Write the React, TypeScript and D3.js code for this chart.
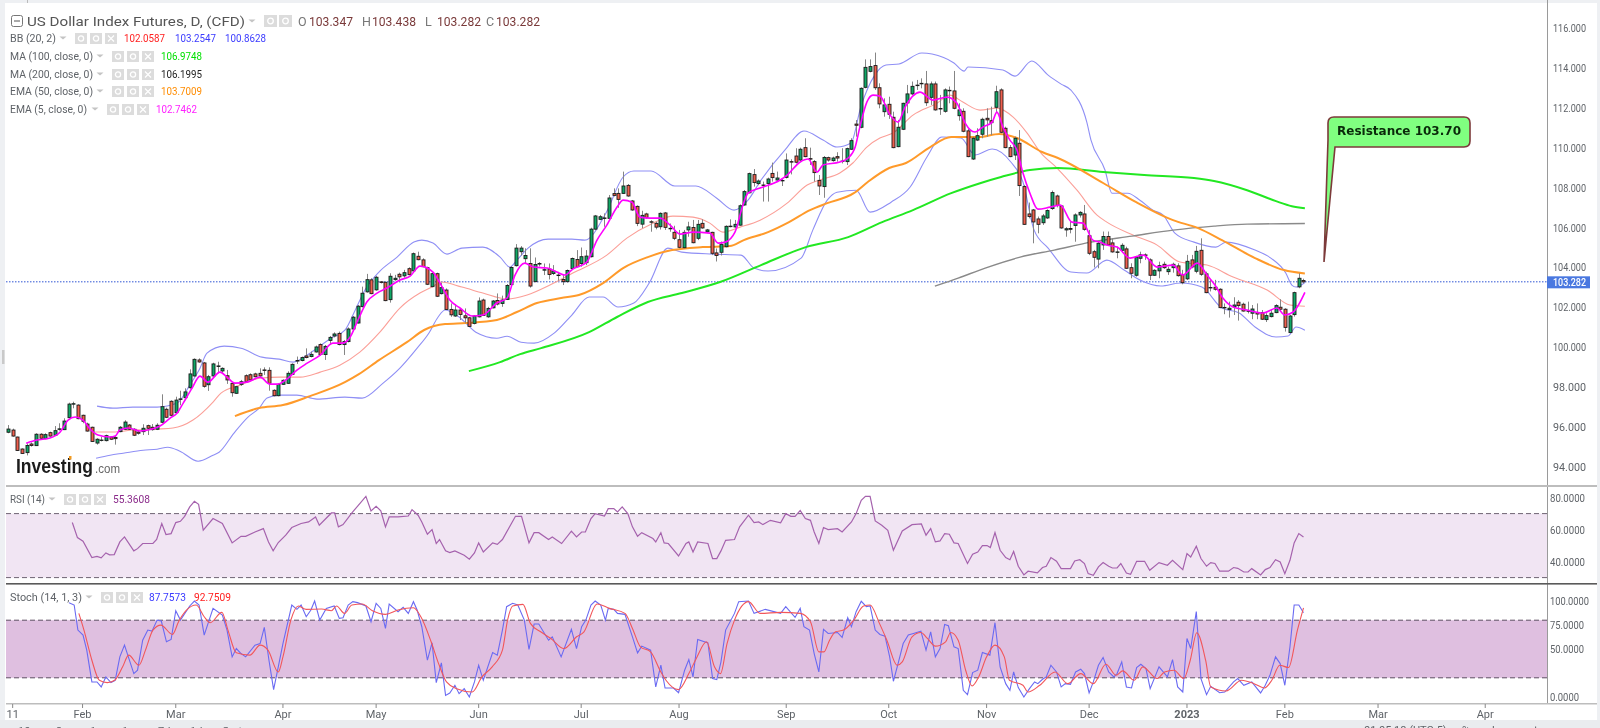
import React from "react";
import * as d3 from "d3";

// daily candles [open, high, low, close]
const ohlc: number[][] = [
  [95.75,96.11,95.7,95.91],[95.86,95.93,95.53,95.56],[95.51,95.53,94.81,94.84],[94.91,94.94,94.66,94.69],[94.73,95.19,94.59,95.09],
  [95.16,95.24,95.03,95.09],[95.08,95.7,95.06,95.65],[95.65,95.7,95.41,95.45],[95.43,95.7,95.4,95.63],[95.73,95.78,95.53,95.56],
  [95.6,96.06,95.56,95.83],[95.9,96.2,95.83,95.92],[95.88,96.45,95.86,96.31],[96.48,97.23,96.45,97.16],[97.17,97.28,96.95,97.18],
  [97.11,97.15,96.4,96.43],[96.6,96.63,96.2,96.3],[96.16,96.23,95.78,95.81],[96.0,96.03,95.26,95.29],[95.21,95.45,95.13,95.4],
  [95.35,95.53,95.29,95.36],[95.33,95.63,95.29,95.58],[95.51,95.55,95.36,95.4],[95.49,95.61,95.13,95.43],[95.78,96.06,95.75,96.0],
  [95.9,96.35,95.86,96.26],[96.11,96.16,95.86,95.9],[95.9,95.95,95.56,95.6],[95.76,95.86,95.63,95.7],[95.78,96.15,95.61,95.95],
  [96.08,96.13,95.61,95.95],[96.0,96.16,95.83,95.88],[95.9,96.2,95.86,96.1],[96.25,97.65,96.2,97.03],[96.9,96.98,96.46,96.5],
  [97.3,97.35,96.56,96.6],[96.73,97.53,96.7,97.36],[97.4,97.83,97.1,97.42],[97.48,97.95,97.45,97.77],[97.98,98.9,97.93,98.67],
  [98.57,99.45,98.53,99.4],[99.37,99.45,99.23,99.27],[99.22,99.27,97.98,98.05],[98.13,98.62,97.82,98.53],[98.57,99.23,98.5,99.17],
  [99.06,99.28,98.7,99.07],[98.82,99.0,98.7,98.95],[98.58,98.87,98.17,98.37],[98.2,98.23,97.53,97.73],[97.7,98.07,97.67,98.03],
  [98.15,98.37,98.07,98.28],[98.58,98.65,98.25,98.28],[98.63,98.7,98.33,98.37],[98.67,98.73,98.5,98.53],[98.7,98.95,98.48,98.57],
  [98.87,99.0,98.62,98.85],[98.85,99.0,97.83,98.2],[97.85,97.9,97.55,97.58],[97.58,98.2,97.55,98.15],[98.15,98.4,98.12,98.35],
  [98.2,98.8,98.17,98.7],[98.65,99.2,98.62,99.15],[99.32,99.54,99.17,99.34],[99.34,99.54,99.3,99.49],[99.57,99.95,99.45,99.49],
  [99.54,99.79,99.5,99.65],[99.77,100.09,99.74,100.02],[100.14,100.2,99.6,99.64],[99.64,100.12,99.37,100.05],[100.35,100.57,100.12,100.5],
  [100.57,100.75,100.5,100.67],[100.7,100.79,100.1,100.14],[100.14,100.37,99.62,100.29],[100.29,101.0,100.25,100.92],[100.92,101.57,100.87,101.51],
  [101.22,102.12,101.19,102.06],[102.04,103.04,102.0,102.71],[102.78,103.68,102.74,103.39],[103.38,103.46,102.66,102.69],[102.88,103.58,102.84,103.51],
  [103.28,103.32,103.2,103.25],[103.26,103.29,102.31,102.34],[102.39,103.71,102.24,103.56],[103.39,103.63,103.34,103.46],[103.66,103.74,103.29,103.53],
  [103.58,103.88,103.49,103.74],[103.94,104.01,103.61,103.64],[103.83,104.75,103.79,104.69],[104.56,104.79,104.36,104.39],[104.38,104.46,104.01,104.04],
  [103.99,104.04,103.12,103.16],[103.04,103.74,103.01,103.69],[103.69,103.74,102.52,102.56],[102.69,103.24,102.65,102.99],[102.87,102.95,101.87,101.9],
  [101.9,102.2,101.53,101.63],[101.57,102.17,101.53,101.87],[101.87,101.92,101.37,101.65],[101.58,101.95,101.2,101.48],[101.48,101.53,101.02,101.05],
  [101.2,101.62,101.15,101.57],[101.53,102.5,101.5,102.32],[102.37,102.44,101.57,101.6],[101.53,102.03,101.48,101.95],[101.98,102.37,101.95,102.32],
  [102.35,102.7,102.1,102.17],[102.2,102.59,102.03,102.37],[102.4,103.17,102.37,103.1],[103.14,104.07,103.1,104.0],[104.09,105.17,104.05,104.97],
  [104.79,105.07,104.6,104.97],[104.44,104.96,104.2,104.6],[104.2,104.96,102.99,103.07],[103.29,104.5,103.27,104.15],[104.17,104.27,104.05,104.2],
  [103.87,104.2,103.62,103.89],[103.92,104.2,103.4,103.65],[103.7,104.12,103.62,103.82],[103.62,103.78,103.34,103.6],[103.4,103.62,103.12,103.29],
  [103.29,103.9,103.25,103.85],[103.95,104.5,103.9,104.45],[104.4,104.87,104.0,104.04],[104.2,105.0,104.04,104.54],[104.24,104.87,104.12,104.57],
  [104.54,105.99,104.5,105.92],[105.92,106.63,105.87,106.58],[106.41,106.63,106.37,106.54],[106.47,106.71,106.04,106.48],[106.46,107.63,106.41,107.48],
  [107.7,107.96,107.56,107.61],[107.71,107.96,106.99,107.41],[107.71,108.8,107.68,108.08],[108.11,108.18,107.54,107.58],[107.33,107.38,106.84,106.88],
  [107.06,107.11,106.07,106.21],[106.17,106.84,105.97,106.61],[106.68,106.74,106.44,106.5],[106.29,106.37,105.79,106.28],[106.21,106.29,105.91,106.02],
  [106.04,106.76,105.9,106.71],[106.73,106.78,105.88,106.01],[105.96,106.2,105.79,105.95],[105.76,106.09,105.37,105.46],[105.39,105.88,104.96,105.01],
  [104.99,105.88,104.96,105.76],[105.88,106.29,105.54,106.03],[106.0,106.38,105.21,105.24],[105.46,106.38,105.37,106.16],[106.21,106.41,105.94,105.98],
  [105.79,105.93,105.72,105.88],[105.76,105.79,104.62,104.71],[104.73,104.95,104.3,104.6],[104.76,105.3,104.6,105.16],[105.04,106.11,105.01,106.06],
  [106.06,106.41,106.01,106.07],[106.03,106.38,105.99,106.16],[106.12,107.16,106.09,107.09],[107.13,107.88,107.09,107.8],[107.74,108.75,107.71,108.7],
  [108.65,108.93,108.05,108.25],[108.2,108.41,108.12,108.33],[108.13,108.3,107.3,108.12],[108.2,108.5,107.3,108.43],[108.71,109.25,108.3,108.5],
  [108.38,108.8,108.33,108.48],[108.36,108.45,108.08,108.35],[108.51,109.71,108.46,109.38],[109.3,109.42,108.66,109.29],[109.58,109.97,109.21,109.27],
  [109.38,110.0,109.3,109.92],[110.0,110.47,109.52,109.55],[109.45,110.0,109.13,109.44],[109.3,109.38,108.3,108.75],[108.36,108.63,107.63,108.08],
  [108.05,109.58,107.49,109.51],[109.5,109.55,109.3,109.38],[109.35,109.55,109.3,109.48],[109.55,109.77,109.3,109.48],[109.33,109.97,109.21,109.32],
  [109.3,110.0,109.13,109.95],[109.92,110.47,109.88,110.35],[111.18,111.38,110.55,111.12],[111.02,113.02,110.97,112.97],[113.02,114.42,112.97,114.02],
  [113.82,114.42,113.77,114.06],[114.11,114.76,112.89,113.0],[113.0,113.22,111.97,112.19],[111.8,112.47,111.55,112.14],[112.17,112.55,111.44,111.67],
  [111.52,111.8,109.97,110.0],[110.05,111.39,110.02,111.02],[110.92,112.25,110.88,112.22],[112.24,113.14,111.72,112.69],[112.69,113.31,112.64,113.07],
  [113.12,113.39,112.89,113.13],[113.2,113.47,112.97,113.22],[113.19,113.84,112.09,112.25],[112.52,113.31,112.14,113.19],[113.19,113.31,111.85,111.89],
  [111.95,112.64,111.64,111.96],[111.82,112.97,111.75,112.89],[112.87,113.06,112.22,112.86],[112.84,113.84,111.92,111.97],[111.6,112.22,111.35,111.89],
  [111.82,111.97,110.77,110.82],[110.84,110.97,109.52,109.55],[109.43,110.55,109.38,110.47],[110.38,110.97,110.33,110.6],[110.67,111.5,110.47,111.42],
  [111.47,111.97,110.55,111.39],[111.35,112.05,110.63,111.25],[112.02,113.1,111.72,112.8],[112.89,112.97,110.72,110.77],[110.97,111.05,109.97,110.0],
  [110.0,110.13,109.52,109.55],[109.63,110.55,109.38,110.47],[110.22,110.88,107.58,108.1],[108.05,108.13,106.13,106.16],[106.68,107.25,106.46,106.55],
  [106.88,106.93,105.21,106.28],[106.43,106.55,105.71,106.16],[106.24,106.68,106.13,106.58],[106.48,106.91,106.43,106.85],[106.95,107.85,106.88,107.75],
  [107.58,107.65,107.01,107.11],[107.08,107.13,105.94,105.98],[105.88,106.02,105.54,105.94],[105.91,106.29,105.71,105.95],[106.1,106.71,105.29,106.63],
  [106.63,106.82,106.5,106.76],[106.68,107.13,105.84,105.91],[105.59,105.88,104.62,104.71],[104.79,104.88,104.0,104.51],[104.42,105.29,103.96,105.21],
  [105.13,105.8,104.88,105.55],[105.55,105.8,105.08,105.13],[105.23,105.46,104.74,104.78],[104.77,105.04,104.46,104.78],[104.86,105.21,104.74,105.11],
  [104.93,105.04,103.93,103.96],[103.99,104.21,103.46,103.71],[103.61,104.58,103.54,104.51],[104.46,104.79,104.21,104.63],[104.63,104.71,104.38,104.62],
  [104.38,104.46,103.37,103.61],[103.61,103.91,103.58,103.86],[103.83,104.29,103.46,104.09],[104.16,104.29,103.93,103.99],[103.79,104.04,103.63,103.91],
  [103.99,104.24,103.74,104.16],[104.08,104.21,103.54,103.59],[103.64,103.88,103.16,103.24],[103.43,104.63,103.37,104.31],[104.38,104.63,103.96,104.03],
  [103.81,105.08,103.71,104.81],[104.86,105.46,103.58,103.66],[103.68,103.79,102.71,102.74],[102.99,103.38,102.8,103.0],[103.01,103.38,102.84,102.91],
  [102.91,102.96,101.96,101.99],[101.99,102.2,101.66,102.0],[101.89,102.29,101.49,101.96],[102.04,102.51,101.62,102.12],[102.26,102.37,101.34,102.09],
  [102.16,102.24,101.79,101.82],[101.82,102.29,101.7,101.83],[101.71,102.12,101.41,101.92],[101.74,102.2,101.41,101.67],[101.74,101.87,101.37,101.41],
  [101.39,101.71,101.27,101.59],[101.54,101.91,101.5,101.71],[101.74,102.16,101.71,102.09],[102.01,102.41,101.79,101.91],[101.91,101.96,100.79,101.0],
  [100.74,101.62,100.71,101.57],[101.64,102.79,101.54,102.74],[103.03,103.71,102.96,103.46],[103.347,103.438,103.2,103.282],
];

// overlays, as [bar index, value] at the vertices
const bbUpper = [[19.1,97.06],[22.5,96.96],[26.8,97.01],[32,97.01],[36.3,97.21],[39,98.11],[41.2,98.96],[42.7,99.71],[46.4,100.06],[50,99.96],[54.5,99.51],[58.2,99.41],[61.2,99.26],[64.8,99.71],[69.3,100.46],[72.3,100.86],[74.5,101.86],[76.6,102.87],[79.6,103.77],[83.5,104.52],[87.1,105.27],[88.8,105.37],[91.2,105.22],[94.2,104.67],[97.4,104.97],[101.9,105.02],[105.6,104.52],[107.7,104.02],[109.2,104.37],[111.6,104.97],[115.9,105.42],[121,105.42],[123.8,105.37],[128.3,106.72],[132,108.53],[134.3,108.83],[138,108.83],[143.1,108.08],[147.6,108.08],[152.1,107.47],[155.8,106.87],[158.8,107.37],[161.6,108.38],[166.7,109.88],[170.8,110.83],[174.9,110.38],[177.9,110.03],[180.9,110.23],[183,112.03],[186,113.63],[188.4,114.14],[191.2,114.19],[196.1,114.74],[198.3,114.69],[203,114.24],[205.2,113.83],[206,114.04],[213.5,113.89],[216.1,113.58],[219.7,114.34],[223.2,113.63],[226,113.18],[228.1,112.88],[231.5,111.28],[232.4,110.38],[235.4,108.88],[236.9,107.72],[240.3,107.72],[242.9,107.37],[245.7,106.87],[247.9,106.62],[250.4,105.72],[254.5,105.27],[259.2,105.02],[261.4,105.27],[267.6,104.87],[271,104.47],[274.2,103.72],[275.5,103.12],[276.4,103.02],[278.3,103.25]];
const bbLower = [[18.9,94.45],[21.9,94.6],[24.7,94.7],[29,94.85],[32,94.9],[34.3,95.0],[36.9,94.8],[40.8,94.3],[44,94.6],[45.3,94.75],[48.5,95.71],[51.5,96.51],[53.9,96.96],[55.6,97.46],[58.2,97.61],[62,97.61],[66.3,97.41],[72.3,97.51],[76,97.46],[80.5,98.21],[84.1,98.96],[87.8,99.96],[90.3,100.71],[92.3,101.52],[93.8,101.87],[96.8,101.52],[100.4,100.76],[104.9,100.46],[107.1,100.56],[110.1,100.26],[112.9,100.21],[117.2,100.71],[121,101.62],[124.7,102.52],[127.7,102.52],[130.9,102.02],[134.3,102.22],[137.6,103.22],[141.6,104.97],[144.6,104.77],[151.3,104.67],[157.3,104.62],[160.1,103.97],[163.1,103.82],[170.2,104.47],[172.7,105.87],[175.8,107.37],[177.9,107.77],[182,107.87],[185,106.77],[189.5,107.27],[193.6,108.03],[197.2,109.53],[200.4,110.53],[204.5,110.48],[207.5,109.63],[211.2,109.93],[215.2,109.28],[217.8,108.28],[220.2,105.87],[223.2,104.97],[228.1,103.77],[231.5,103.72],[235.8,104.37],[239.5,103.87],[242.9,103.37],[247.4,103.07],[251.7,103.22],[256.2,103.02],[260.5,101.97],[264.2,101.72],[267.6,101.02],[272.1,100.52],[274.7,100.57],[276.4,101.02],[278.3,100.86]];
const bbMiddle = [[18.7,95.76],[22.5,95.76],[26.8,95.86],[32,95.91],[35.4,95.96],[39.7,96.36],[44,97.26],[45.7,97.71],[49.8,98.11],[54.1,98.46],[58.4,98.51],[62.7,98.51],[67,98.76],[71.2,99.11],[75.5,99.76],[79.8,100.76],[84.1,101.97],[88.4,102.72],[91,103.02],[92.9,103.27],[97.4,103.02],[101.9,102.72],[107.1,102.42],[111.4,102.62],[116.3,103.12],[121.2,103.72],[128.5,104.62],[132.8,105.47],[138.4,106.22],[142.7,106.57],[147,106.52],[150.6,106.22],[153.4,105.77],[157.1,106.02],[161.4,106.37],[167.2,107.22],[171.5,108.13],[174.2,108.38],[178.5,108.73],[181.3,109.23],[184.3,110.03],[187.1,110.48],[189.9,110.73],[194.2,111.63],[199.4,112.23],[202.1,112.63],[204.9,112.28],[208.6,111.88],[212.2,111.98],[215.7,111.53],[218.7,110.73],[221.5,109.78],[225.1,108.98],[229.4,107.87],[233.7,106.62],[235.8,106.27],[241.4,105.62],[246.6,105.12],[251.5,104.27],[257.3,104.12],[262.9,103.52],[270.2,102.87],[275.1,102.12],[278.3,102.06]];
const ema50 = [[48.7,96.56],[53.9,96.96],[59,97.11],[64.8,97.56],[72.3,98.26],[75.3,98.66],[79.6,99.36],[85.6,100.26],[89.3,100.87],[93.8,101.17],[98.3,101.22],[104.9,101.37],[109.2,101.77],[113.5,102.22],[118.7,102.47],[122.5,102.62],[127.7,103.22],[132,103.97],[137.3,104.52],[142.5,104.87],[149.1,105.02],[154.9,105.07],[157.9,105.37],[163.1,105.77],[167.6,106.27],[172.1,106.87],[175.8,107.22],[181.5,107.72],[184.5,108.28],[189.1,108.98],[192.7,109.23],[197.9,110.03],[202.4,110.53],[208.4,110.53],[212.7,110.68],[216.5,110.48],[221.9,109.78],[225.3,109.48],[235,108.23],[242.1,107.27],[250,106.37],[255.4,105.97],[260.5,105.37],[267.6,104.47],[273.8,103.87],[278.3,103.7]];
const ma100 = [[98.9,98.81],[105.6,99.26],[109.9,99.66],[114.4,99.96],[124.7,100.76],[130.7,101.52],[137.3,102.27],[144.6,102.72],[152.8,103.27],[161.6,104.12],[171.2,105.02],[180.3,105.52],[187.6,106.27],[194.2,106.87],[202.4,107.72],[208.6,108.22],[213.1,108.53],[219.3,108.88],[225.3,108.98],[235,108.78],[243.8,108.63],[254.5,108.48],[258.8,108.33],[265.9,107.87],[272.1,107.32],[275.5,107.07],[278.3,106.97]];
const ma200 = [[198.9,103.07],[203.9,103.47],[209.7,103.97],[217.2,104.52],[224.5,104.87],[232.4,105.27],[241.2,105.57],[250,105.87],[258.8,106.07],[265.9,106.17],[278.3,106.2]];
const ema5 = [[3.9,95.2],[6.2,95.36],[9,95.46],[11.2,95.76],[12.9,96.36],[14.4,96.51],[16.1,96.36],[17.6,95.91],[19.3,95.61],[21.9,95.51],[23,95.56],[24,95.86],[25.8,95.96],[28.3,95.81],[30.9,95.91],[32.6,96.06],[34.8,96.46],[36.3,96.71],[37.6,97.21],[39.5,97.96],[41.2,98.56],[42.9,98.26],[45.5,98.76],[47,98.51],[48.7,98.21],[51.3,98.26],[54.1,98.51],[56.2,98.16],[57.9,98.16],[60.1,98.46],[62,98.86],[64.2,99.21],[67,99.61],[69.7,100.21],[71.7,100.21],[73.4,100.51],[75.1,101.37],[77,102.27],[79.2,102.72],[81.3,102.97],[84.1,103.37],[86.3,103.57],[88.4,104.07],[91.2,103.77],[92.7,103.22],[94.8,102.37],[97,101.97],[99.6,101.57],[101.9,101.62],[104.9,102.22],[107.1,102.47],[108.8,103.62],[110.9,104.22],[112.7,104.02],[115.7,103.97],[117.8,103.77],[119.5,103.62],[121.2,103.92],[124.2,104.27],[126.4,105.37],[128.5,106.12],[130.7,107.03],[132,107.37],[133.9,107.27],[135.6,106.52],[137.8,106.47],[139.9,106.47],[142.1,106.12],[144.2,105.67],[147,105.77],[150.6,105.72],[152.4,105.22],[153.9,105.27],[156,105.77],[157.7,107.12],[158.8,107.72],[161.4,107.98],[165.7,108.38],[167.2,108.63],[170,109.28],[171.7,109.43],[173.6,108.78],[174.9,109.13],[178.5,109.28],[180.3,109.48],[181.8,110.03],[182.8,111.03],[184.3,112.28],[185.6,112.63],[187.1,112.58],[189.3,111.63],[191,111.28],[192.5,112.03],[195.7,112.78],[198.5,112.38],[201.5,112.53],[203.6,112.23],[205.4,111.23],[207.5,110.78],[209.2,111.03],[211.2,111.28],[212.2,111.78],[213.5,111.03],[215,110.38],[216.5,109.88],[217.8,108.73],[219.3,107.72],[221,106.92],[223.6,107.02],[225.8,107.12],[228.3,106.27],[230.7,106.22],[232.8,105.37],[234.3,105.27],[235.8,105.12],[238,105.02],[240.8,104.47],[243.6,104.62],[246.6,104.02],[250,104.12],[252.1,103.62],[255.2,104.22],[257.3,103.62],[259,103.12],[260.7,102.47],[262.9,102.02],[265.9,101.87],[269.3,101.72],[272.3,101.97],[274,101.62],[275.8,101.77],[278.3,102.75]];

const rsi = [[13.8,64.4],[14.9,55],[16.1,52.7],[18,42.5],[19.1,43.3],[20,42.3],[21,45.4],[21.8,44.2],[22.8,44.4],[24,52.3],[25,55.4],[27,46.7],[27.8,48.1],[28.9,51.3],[31.1,51.3],[31.9,53.8],[33,63.8],[33.9,56.9],[35,57.5],[36,64.4],[37,65.2],[37.9,68.3],[39,74.2],[40,77.7],[40.9,75.8],[41.9,59.6],[44,66.9],[46,63.8],[48.1,51.7],[50,55.8],[51,55.8],[53,58.5],[54.8,60.6],[55.9,52.3],[56.9,46.7],[58,51.9],[59.6,56.5],[60.9,61.3],[62.9,63.8],[64.5,64.8],[66,67.9],[66.8,62.7],[69.4,70.4],[70.1,70.4],[70.9,61.7],[71.9,63.1],[73.8,70.4],[76.8,80.8],[77.9,71.7],[79,74.6],[80,71.7],[81,61.7],[81.8,67.9],[83.7,67.9],[85.9,68.5],[86.7,72.5],[88,69],[88.8,64.8],[90,57.1],[91,60],[91.9,51.3],[92.6,53.8],[93.9,46.7],[94.8,45.6],[95.9,46.7],[97.9,44],[99,41.5],[100.1,45.4],[101,51.7],[102,46],[104,51.7],[105,50.8],[106.1,53.8],[108.9,68.3],[110.2,68.3],[111.8,51.7],[112.9,58.1],[113.9,58.1],[116,53.8],[116.8,55.4],[118.8,51.3],[120.9,59],[122,55.4],[123.1,58.5],[123.9,58.5],[125.1,66.9],[126,70],[128,68.5],[128.8,73.1],[130,73.1],[130.8,71],[131.8,74.2],[133,70],[134,61.7],[135.1,55.8],[136,58.1],[138.4,54.4],[139,52.3],[140.1,58.1],[140.8,51.7],[141.7,51.3],[143.9,43.5],[145.5,51.3],[146.1,52.3],[147,46],[148,52.3],[150.2,51.3],[151.2,41.9],[152.1,41.9],[153,46.7],[154,53.3],[155.9,53.8],[157,61.7],[158.9,69],[160.1,64.4],[161.1,64.8],[162,63.1],[163.6,65.8],[165.8,64.2],[166.9,70],[168,68.3],[168.9,68.3],[170,72],[171.1,66.9],[172.2,65.8],[173,58.5],[174,51.3],[175,61.3],[176,60],[178,60.6],[179,58.5],[181,64.8],[182,70],[183.1,78.3],[184,80.8],[185,80.8],[186.1,65.4],[187.5,62.7],[188.8,59.6],[190,47.1],[191.9,59.2],[194,63.1],[196,63.5],[197,56.5],[198,60.6],[199,52.3],[200,52.9],[201,57.5],[202,57.1],[203,51.7],[203.9,51.3],[205.9,38.8],[207,44.6],[208.1,46],[209.1,50],[210.1,50],[210.8,48.8],[211.8,58.1],[212.9,47.1],[214.1,42.5],[215,41.2],[215.8,46.3],[216.8,37.1],[218,31.7],[218.9,34],[220.9,32.9],[222,36.3],[222.8,37.1],[223.8,42.5],[225,40.2],[226,35.6],[228,35.6],[228.9,40.4],[230,41.2],[231,38.8],[231.8,32.5],[232.9,31.5],[234,36.7],[235,39.4],[236.2,37.1],[237,36],[238,36],[238.8,38.8],[240,32.9],[240.9,32.1],[242.2,40.2],[243.9,40.2],[245,34.6],[247,39.4],[248.8,37.7],[249.9,40.8],[252.1,35],[253,45],[253.8,42.9],[255,49.6],[256,41.9],[257.2,37.1],[258.1,39.4],[259,38.8],[260,34],[261.9,34],[263,36.3],[263.9,35.8],[265.2,33.5],[266.1,33.5],[266.9,35.6],[268.8,31.7],[269.8,35],[270.8,36.3],[272,41.2],[273,39.8],[274,32.5],[275.1,40.8],[276,51.7],[277,57.5],[278,55.36]];
const stochK = [[13.1,98.3],[14.2,95.8],[15,69.7],[16.1,64.5],[16.9,48.8],[18,15.7],[19.1,15.7],[20,10.5],[21,20.9],[22.1,15],[23,17.4],[24,41.8],[25,54],[27,24.4],[27.8,27.9],[28.9,59.2],[30,69.7],[30.9,68.6],[32,80.1],[32.9,79.1],[34,57.5],[35,59.9],[36,89.9],[37,80.1],[39,94.8],[40,100],[41,95.8],[42.1,64.5],[44,92.3],[46,85.4],[47,69.7],[48.1,41.8],[49,50.5],[50,45.3],[51,41.8],[53,54],[54.1,55.7],[55,72.5],[56,38.3],[57,7.7],[58,31.4],[59,55.7],[60.9,95.8],[62,91.3],[62.9,95.8],[64,83.6],[65,90.6],[65.8,100],[66.9,80.1],[68.3,92.3],[70,94.8],[71.1,81.9],[71.9,82.6],[73,95.8],[74,99.3],[75,98.3],[76.8,94.8],[77.9,78.4],[79,97.6],[80,92.3],[81,71.4],[81.8,96.9],[83.7,88.9],[84.8,93.4],[85.9,87.1],[87,99.3],[87.8,90.6],[88.8,73.2],[90,38.3],[91,56.4],[91.9,15],[93,35.5],[93.9,1.7],[94.8,4.2],[95.9,12.2],[96.8,3.5],[97.9,8.7],[99,0],[100.1,15.7],[101,33.1],[102,17.4],[104,46.3],[105,43.6],[106.1,69.7],[107,94.1],[108.3,97.6],[109.4,95.8],[110.8,80.1],[111.8,49.5],[112.9,76],[113.9,76],[116,59.2],[116.8,62.7],[118.7,41.8],[120.9,70.4],[122,50.5],[123.1,73.2],[124,80.1],[125.1,95.8],[126,100],[127.2,95.8],[128.2,80.1],[128.8,92.3],[130,91.3],[130.8,87.1],[132.4,86.1],[134,62.7],[135.1,46],[136,53],[137.9,48.8],[139,10.5],[140.1,33.1],[141,9.4],[142.8,9.4],[143.9,4.5],[145.2,27.9],[146.1,39],[147,20.9],[148,59.9],[150.2,56.4],[151.2,19.2],[152.1,18.1],[153,36.6],[154,69.7],[155.9,87.1],[156.8,99.3],[158.9,100],[160.1,87.1],[162.5,91.3],[165.8,87.1],[166.9,94.1],[168.9,82.9],[170,92.3],[170.8,73.2],[172,69.7],[173,45.3],[174,26.1],[175,70.4],[176,66.2],[178,67.2],[179,62],[180.2,82.6],[181,73.2],[182,88.9],[183.1,99.7],[184.2,94.1],[185,94.8],[186.1,69.7],[187.1,65.2],[188.2,63.4],[189.2,41.8],[190,16.4],[191.1,36.6],[192.1,55.7],[193.2,64.5],[194.3,66.2],[195.9,68.6],[197,48.8],[198,67.9],[199,41.8],[200,50.5],[201,75.6],[201.8,74.2],[203,52.3],[203.9,50.5],[205,7],[205.9,2.4],[207,25.4],[208.1,27.9],[209.1,46.3],[210.7,43.6],[211.8,77.4],[212.9,31.4],[214.1,13.9],[215,7],[215.8,26.1],[216.8,9.8],[218,0],[219.2,8.7],[220.3,15.7],[221,13.9],[222,18.5],[222.8,20.9],[223.8,33.1],[225,26.1],[226,10.5],[226.9,13.9],[228,13.2],[229.1,26.1],[230.2,28.9],[231,24.4],[232,4.2],[232.9,15.7],[234,33.1],[235,41.1],[236.2,26.1],[237.3,20.9],[238,24.4],[239,36.6],[240,10.5],[241.1,9.4],[242.2,30.7],[243.1,34.1],[244.2,29.6],[245.1,8.7],[247,31.4],[248.8,20.9],[249.9,39],[251,10.5],[252.1,5.2],[253,61],[253.8,50.5],[255,88.9],[256,19.2],[257.2,2.4],[258.1,11.1],[260,4.5],[261.1,5.2],[263,15.7],[263.9,19.2],[265.2,12.2],[266.9,15.7],[268.8,4.2],[269.8,12.2],[270.8,22.6],[272,41.8],[273,34.8],[274,12.2],[275.1,52.3],[276,95.8],[277,95.8],[278,87.76]];
const stochD = [[15.2,87.1],[16.3,69.7],[18,38.3],[19.6,17.4],[21.3,15],[22.9,17.4],[24.6,31.4],[25.9,43.6],[28.1,33.1],[29.5,48.8],[31.1,69.7],[32.8,74.9],[35.3,65.2],[36.6,78.4],[38.2,89.9],[40.4,95.8],[42.1,83.6],[43.4,77.4],[45.9,88.2],[47.2,69.7],[49,46],[51.9,43.6],[54.1,54],[55.8,48.8],[58,26.1],[59,41.8],[60.7,80.1],[62.3,94.8],[64,91.3],[67.3,91.6],[69.4,89.9],[70.5,94.8],[72.2,87.1],[73.8,95.8],[76,96.9],[78.2,89.9],[81,86.1],[83.7,90.6],[87,93],[88.6,83.6],[90.8,57.5],[92.4,34.8],[94.1,15.7],[96.3,8.7],[99.6,5.2],[101.7,20.9],[103.9,31.4],[106.1,48.8],[107.2,80.1],[108.3,94.8],[110.5,96.5],[112.1,76.7],[114.3,67.9],[116.5,61],[119.3,50.5],[122,62.7],[123.6,67.9],[126.4,96.9],[129.1,92.3],[132.4,87.1],[134,71.4],[135.7,52.3],[137.9,47],[140.1,26.1],[141.2,17.4],[143.9,7.7],[146.1,24.4],[147.7,40.1],[149.9,57.5],[151.6,31.4],[152.9,24.4],[154.3,55.7],[155.9,80.1],[158.9,99.3],[161.4,87.1],[165.8,88.2],[170,87.1],[172.2,78.4],[174,47],[175.1,47],[176.3,59.2],[177.6,67.9],[179.3,69.7],[181.5,80.1],[183.6,94.8],[185,95.8],[187,76.7],[188.6,59.2],[190.8,33.1],[191.9,36.6],[194,62.7],[195.9,67.2],[197.3,61],[199,53],[201.2,57.5],[202.3,67.2],[203.9,59.2],[205.5,27.9],[206.9,11.5],[208.3,20.9],[210,41.8],[211.8,54],[213.8,41.8],[214.9,17.4],[217.8,12.2],[218.9,5.2],[221.4,12.2],[224.7,26.1],[227.4,13.9],[230.2,24.4],[232.9,13.9],[235.6,34.1],[237.8,22.6],[239.2,27.2],[241.7,17.4],[243.5,31.4],[246.6,19.2],[248.2,26.1],[250.2,27.9],[252.3,19.2],[253.7,38.3],[255.1,66.9],[257,38.3],[258.1,10.5],[261.4,6.3],[264.7,17.4],[267.4,13.9],[269.6,9.4],[271.2,17.4],[272.9,33.1],[274.8,30.7],[276.7,69.7],[278,92.75]];

const priceTicks = [94, 96, 98, 100, 102, 104, 106, 108, 110, 112, 114, 116];
const rsiTicks = [40, 60, 80];
const stochTicks = [0, 50, 75, 100];
const dateBars = [1, 16, 36, 59, 79, 101, 123, 144, 167, 189, 210, 232, 253, 274, 294, 317];
const dateLabels = ["11", "Feb", "Mar", "Apr", "May", "Jun", "Jul", "Aug", "Sep", "Oct", "Nov", "Dec", "2023", "Feb", "Mar", "Apr"];
const lastPrice = 103.282;

const headerLabels = ["O", "H", "L", "C"];
const headerValues = ["103.347", "103.438", "103.282", "103.282"];

const AXIS_X = 1547;
const x = d3.scaleLinear().domain([0, 278]).range([8, 8 + 278 * 4.66]);
const yPrice = d3.scaleLinear().domain([94, 112]).range([467.2, 107.7]);
const yRsi = d3.scaleLinear().domain([30, 80]).range([577.6, 497.6]);
const yStoch = d3.scaleLinear().domain([0, 100]).range([697, 601]);

const FONT = "Roboto, 'Open Sans', sans-serif";
const GRAY = "#5f6368";

function linePath(y: d3.ScaleLinear<number, number>, data: number[][], smooth = false) {
  const gen = d3.line<number[]>().x((d) => x(d[0])).y((d) => y(d[1]));
  if (smooth) gen.curve(d3.curveMonotoneX);
  return gen(data) ?? "";
}

function Txt({ tx, ty, w, size = 10.5, fill = GRAY, weight, children, anchor }: any) {
  return (
    <text x={tx} y={ty} fontSize={size} fill={fill} fontWeight={weight} textAnchor={anchor}
      fontFamily={FONT} textLength={w} lengthAdjust={w ? "spacingAndGlyphs" : undefined}>
      {children}
    </text>
  );
}

function IconBoxes({ at, ty, gap = 15 }: { at: number; ty: number; gap?: number }) {
  return (
    <g>
      {[0, 1, 2].map((i) => (
        <g key={i} transform={`translate(${at + i * gap},${ty})`}>
          <rect width={12} height={11} fill="#dcdcdc" />
          {i === 2 ? (
            <path d="M3 2.5L9 8.5M9 2.5L3 8.5" stroke="#fff" strokeWidth={1.2} />
          ) : (
            <circle cx={6} cy={5.5} r={2.6} fill="none" stroke="#fff" strokeWidth={1.3} />
          )}
        </g>
      ))}
    </g>
  );
}

function Caret({ cx, cy }: { cx: number; cy: number }) {
  return <path d={`M${cx - 3.5} ${cy - 1.5}H${cx + 3.5}L${cx} ${cy + 1.5}Z`} fill="#c4c4c4" />;
}

const legendRows = [
  { label: "BB (20, 2)", w: 46, caret: 63, box: 75, ty: 42, values: [["102.0587", "#ff2020", 124], ["103.2547", "#3a3aff", 175], ["100.8628", "#3a3aff", 225]] },
  { label: "MA (100, close, 0)", w: 83, caret: 100, box: 112, ty: 60, values: [["106.9748", "#00e000", 161]] },
  { label: "MA (200, close, 0)", w: 83, caret: 100, box: 112, ty: 78, values: [["106.1995", "#222222", 161]] },
  { label: "EMA (50, close, 0)", w: 83, caret: 100, box: 112, ty: 95, values: [["103.7009", "#ff8c00", 161]] },
  { label: "EMA (5, close, 0)", w: 77, caret: 95, box: 107, ty: 113, values: [["102.7462", "#ff20ff", 156]] },
];

const Candles = () => (
  <g>
    {ohlc.map((d, i) => {
      const up = d[3] >= d[0];
      const top = yPrice(Math.max(d[0], d[3]));
      const bottom = yPrice(Math.min(d[0], d[3]));
      const cx = Math.round(x(i)) + 0.5;
      return (
        <g key={i}>
          <line x1={cx} x2={cx} y1={yPrice(d[1])} y2={yPrice(d[2])} stroke="#858585" />
          <rect x={cx - 1.5} y={top} width={3} height={Math.max(bottom - top, 0.5)}
            fill={up ? "#10a866" : "#ef5f4e"} stroke="#1a1a1a" strokeWidth={0.9} />
        </g>
      );
    })}
  </g>
);

export default function App() {
  return (
    <svg width={1600} height={728} viewBox="0 0 1600 728"
      style={{ position: "fixed", left: 0, top: 0, background: "#fff", filter: "blur(0.35px)" }}>
      {/* page chrome */}
      <rect x={0} y={0} width={1600} height={3} fill="#eef0f3" />
      <rect x={0} y={0} width={5} height={720} fill="#eef0f3" />
      <rect x={2} y={350} width={2.5} height={14} fill="#c9c9c9" />
      <rect x={1597} y={0} width={3} height={720} fill="#eef0f3" />
      <line x1={27.5} x2={27.5} y1={0} y2={3} stroke="#bbb" />
      <rect x={0} y={720} width={1600} height={8} fill="#eaecef" />
      <line x1={AXIS_X + 0.5} x2={AXIS_X + 0.5} y1={0} y2={704} stroke="#9a9a9a" />

      {/* price pane overlays and candles */}
      <line x1={6} x2={AXIS_X} y1={yPrice(lastPrice)} y2={yPrice(lastPrice)} stroke="#2f55d4" strokeDasharray="1.5 1.5" />
      <path d={linePath(yPrice, bbUpper, true)} fill="none" stroke="#8f8ff5" strokeWidth={1.1} />
      <path d={linePath(yPrice, bbLower, true)} fill="none" stroke="#8f8ff5" strokeWidth={1.1} />
      <path d={linePath(yPrice, bbMiddle, true)} fill="none" stroke="#fb9f98" strokeWidth={1.1} />
      <path d={linePath(yPrice, ma200, true)} fill="none" stroke="#8a8a8a" strokeWidth={1.4} />
      <path d={linePath(yPrice, ma100, true)} fill="none" stroke="#22e822" strokeWidth={2} />
      <path d={linePath(yPrice, ema50, true)} fill="none" stroke="#ff9a2a" strokeWidth={2} />
      <Candles />
      <path d={linePath(yPrice, ema5, true)} fill="none" stroke="#ff00ff" strokeWidth={1.6} />

      {/* legend */}
      <rect x={11.5} y={15.5} width={11} height={11} rx={2} fill="none" stroke="#777" />
      <line x1={14} x2={20} y1={21} y2={21} stroke="#555" />
      <Txt tx={27} ty={26} w={218} size={13} fill="#555">US Dollar Index Futures, D, (CFD)</Txt>
      <Caret cx={252} cy={21} />
      {[0, 1].map((i) => (
        <g key={i} transform={`translate(${264 + i * 15},15)`}>
          <rect width={13} height={12} fill="#dcdcdc" />
          <circle cx={6.5} cy={6} r={2.8} fill="none" stroke="#fff" strokeWidth={1.3} />
        </g>
      ))}
      {headerLabels.map((h, i) => (
        <g key={h}>
          <Txt tx={[298, 362, 425, 486][i]} ty={26} size={12.5} fill="#777">{h}</Txt>
          <Txt tx={[309, 372, 437, 496][i]} ty={26} w={44} size={12.5} fill="#7a3a3a">{headerValues[i]}</Txt>
        </g>
      ))}
      {legendRows.map((r) => (
        <g key={r.label}>
          <Txt tx={10} ty={r.ty} w={r.w}>{r.label}</Txt>
          <Caret cx={r.caret} cy={r.ty - 4} />
          <IconBoxes at={r.box} ty={r.ty - 9} />
          {r.values.map((v) => (
            <Txt key={v[2] as number} tx={v[2]} ty={r.ty} w={41} fill={v[1]}>{v[0]}</Txt>
          ))}
        </g>
      ))}

      {/* watermark */}
      <text x={16} y={473} fontFamily="'Liberation Sans', Arial, sans-serif" fontWeight={700} fontSize={21} fill="#1c1c1c"
        textLength={77} lengthAdjust="spacingAndGlyphs">Investing</text>
      <text x={95} y={473} fontFamily="'Liberation Sans', Arial, sans-serif" fontSize={12} fill="#666"
        textLength={25} lengthAdjust="spacingAndGlyphs">.com</text>
      <rect x={69} y={456} width={2.5} height={3.5} fill="#f29a1f" />

      {/* callout */}
      <path d="M1334 117H1464q6 0 6 6v18q0 6-6 6H1335L1324 262L1328 140V123q0-6 6-6Z"
        fill="#80ff80" stroke="#7c3a3a" strokeWidth={1.6} />
      <text x={1337} y={135} fontFamily="'DejaVu Sans', sans-serif" fontWeight={700} fontSize={12} fill="#0a2a0a"
        textLength={124} lengthAdjust="spacingAndGlyphs">Resistance 103.70</text>

      {/* price axis */}
      {priceTicks.map((t) => (
        <Txt key={t} tx={1553} ty={yPrice(t) + 4} w={33} size={11}>{t.toFixed(3)}</Txt>
      ))}
      <rect x={AXIS_X} y={yPrice(lastPrice) - 5.5} width={43} height={12} fill="#4a78e0" />
      <Txt tx={1553} ty={yPrice(lastPrice) + 4.5} w={33} size={11} fill="#fff" weight={500}>{lastPrice.toFixed(3)}</Txt>

      {/* RSI pane */}
      <rect x={6} y={485} width={1591} height={2} fill="#bdbdbd" />
      <rect x={6} y={yRsi(70)} width={AXIS_X - 6} height={yRsi(30) - yRsi(70)} fill="#f1e5f3" />
      {[70, 30].map((v) => (
        <line key={v} x1={6} x2={AXIS_X} y1={yRsi(v)} y2={yRsi(v)} stroke="#6e6472" strokeDasharray="5 3" />
      ))}
      <path d={linePath(yRsi, rsi)} fill="none" stroke="#a562ad" strokeWidth={1.2} />
      <Txt tx={10} ty={503} w={35}>RSI (14)</Txt>
      <Caret cx={52} cy={499} />
      <IconBoxes at={64} ty={494} gap={15} />
      <Txt tx={113} ty={503} w={37} fill="#8a2a8a">55.3608</Txt>
      {rsiTicks.map((t) => (
        <Txt key={t} tx={1550} ty={yRsi(t) + 4} w={35} size={11}>{t.toFixed(4)}</Txt>
      ))}

      {/* Stochastic pane */}
      <rect x={6} y={583} width={1591} height={1.6} fill="#5a5a5a" />
      <rect x={6} y={yStoch(80)} width={AXIS_X - 6} height={yStoch(20) - yStoch(80)} fill="#dfbfe0" />
      {[80, 20].map((v) => (
        <line key={v} x1={6} x2={AXIS_X} y1={yStoch(v)} y2={yStoch(v)} stroke="#5e4f63" strokeDasharray="5 3" />
      ))}
      <path d={linePath(yStoch, stochK)} fill="none" stroke="#6a6af2" strokeWidth={1.1} />
      <path d={linePath(yStoch, stochD, true)} fill="none" stroke="#f2565a" strokeWidth={1.1} />
      <Txt tx={10} ty={601} w={72}>Stoch (14, 1, 3)</Txt>
      <Caret cx={89} cy={597} />
      <IconBoxes at={101} ty={592} gap={15} />
      <Txt tx={149} ty={601} w={37} fill="#3a3aff">87.7573</Txt>
      <Txt tx={194} ty={601} w={37} fill="#ff2020">92.7509</Txt>
      {stochTicks.map((t) => (
        <Txt key={t} tx={1550} ty={yStoch(t) + 4} w={t === 100 ? 39 : t === 0 ? 29 : 34} size={11}>{t.toFixed(4)}</Txt>
      ))}

      {/* time axis */}
      <rect x={6} y={703} width={1591} height={1.5} fill="#bdbdbd" />
      {dateBars.map((b, i) => (
        <g key={i}>
          <line x1={x(b)} x2={x(b)} y1={704} y2={708} stroke="#888" />
          <Txt tx={x(b)} ty={718} size={11} anchor="middle" weight={dateLabels[i] === "2023" ? 700 : 400}>{dateLabels[i]}</Txt>
        </g>
      ))}

      {/* toolbar, cut off by the edge of the screenshot */}
      <Txt tx={18} ty={735} size={11}>10y</Txt>
      <Txt tx={56} ty={735} size={11}>3y</Txt>
      <Txt tx={90} ty={735} size={11}>1y</Txt>
      <Txt tx={122} ty={735} size={11}>1m</Txt>
      <Txt tx={158} ty={735} size={11}>7d</Txt>
      <Txt tx={190} ty={735} size={11}>1d</Txt>
      <Txt tx={222} ty={735} size={11}>Go to</Txt>
      <Txt tx={1364} ty={734} size={11}>01:05:18 (UTC-5)</Txt>
      <Txt tx={1462} ty={734} size={11}>%</Txt>
      <Txt tx={1492} ty={734} size={11}>log</Txt>
      <Txt tx={1522} ty={734} size={11}>auto</Txt>
    </svg>
  );
}
